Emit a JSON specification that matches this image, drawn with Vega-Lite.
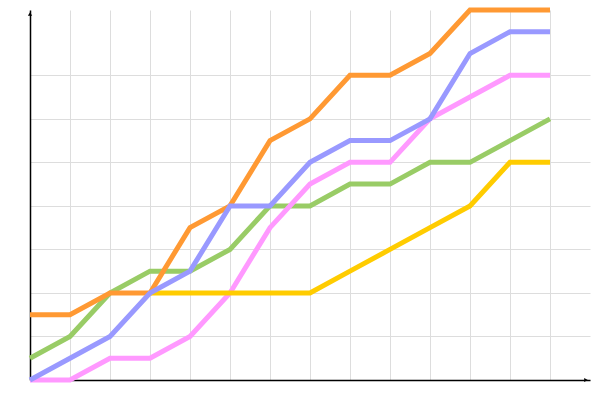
{
  "$schema": "https://vega.github.io/schema/vega-lite/v6.json",
  "width": 560,
  "height": 370,
  "autosize": {"type": "none"},
  "padding": {"left": 30, "top": 10, "right": 10, "bottom": 20},
  "background": "white",
  "config": {"view": {"stroke": null}},
  "datasets": {
    "series": [
      {"i": 0, "v": 0.5, "s": "green"}, {"i": 1, "v": 1, "s": "green"}, {"i": 2, "v": 2, "s": "green"}, {"i": 3, "v": 2.5, "s": "green"}, {"i": 4, "v": 2.5, "s": "green"}, {"i": 5, "v": 3, "s": "green"}, {"i": 6, "v": 4, "s": "green"}, {"i": 7, "v": 4, "s": "green"}, {"i": 8, "v": 4.5, "s": "green"}, {"i": 9, "v": 4.5, "s": "green"}, {"i": 10, "v": 5, "s": "green"}, {"i": 11, "v": 5, "s": "green"}, {"i": 12, "v": 5.5, "s": "green"}, {"i": 13, "v": 6, "s": "green"},
      {"i": 0, "v": 0, "s": "pink"}, {"i": 1, "v": 0, "s": "pink"}, {"i": 2, "v": 0.5, "s": "pink"}, {"i": 3, "v": 0.5, "s": "pink"}, {"i": 4, "v": 1, "s": "pink"}, {"i": 5, "v": 2, "s": "pink"}, {"i": 6, "v": 3.5, "s": "pink"}, {"i": 7, "v": 4.5, "s": "pink"}, {"i": 8, "v": 5, "s": "pink"}, {"i": 9, "v": 5, "s": "pink"}, {"i": 10, "v": 6, "s": "pink"}, {"i": 11, "v": 6.5, "s": "pink"}, {"i": 12, "v": 7, "s": "pink"}, {"i": 13, "v": 7, "s": "pink"},
      {"i": 3, "v": 2, "s": "yellow"}, {"i": 4, "v": 2, "s": "yellow"}, {"i": 5, "v": 2, "s": "yellow"}, {"i": 6, "v": 2, "s": "yellow"}, {"i": 7, "v": 2, "s": "yellow"}, {"i": 8, "v": 2.5, "s": "yellow"}, {"i": 9, "v": 3, "s": "yellow"}, {"i": 10, "v": 3.5, "s": "yellow"}, {"i": 11, "v": 4, "s": "yellow"}, {"i": 12, "v": 5, "s": "yellow"}, {"i": 13, "v": 5, "s": "yellow"},
      {"i": 0, "v": 1.5, "s": "orange"}, {"i": 1, "v": 1.5, "s": "orange"}, {"i": 2, "v": 2, "s": "orange"}, {"i": 3, "v": 2, "s": "orange"}, {"i": 4, "v": 3.5, "s": "orange"}, {"i": 5, "v": 4, "s": "orange"}, {"i": 6, "v": 5.5, "s": "orange"}, {"i": 7, "v": 6, "s": "orange"}, {"i": 8, "v": 7, "s": "orange"}, {"i": 9, "v": 7, "s": "orange"}, {"i": 10, "v": 7.5, "s": "orange"}, {"i": 11, "v": 8.5, "s": "orange"}, {"i": 12, "v": 8.5, "s": "orange"}, {"i": 13, "v": 8.5, "s": "orange"},
      {"i": 0, "v": 0, "s": "blue"}, {"i": 1, "v": 0.5, "s": "blue"}, {"i": 2, "v": 1, "s": "blue"}, {"i": 3, "v": 2, "s": "blue"}, {"i": 4, "v": 2.5, "s": "blue"}, {"i": 5, "v": 4, "s": "blue"}, {"i": 6, "v": 4, "s": "blue"}, {"i": 7, "v": 5, "s": "blue"}, {"i": 8, "v": 5.5, "s": "blue"}, {"i": 9, "v": 5.5, "s": "blue"}, {"i": 10, "v": 6, "s": "blue"}, {"i": 11, "v": 7.5, "s": "blue"}, {"i": 12, "v": 8, "s": "blue"}, {"i": 13, "v": 8, "s": "blue"}
    ],
    "arrows": [
      {"i": 14, "v": 0, "dir": "right"},
      {"i": 0, "v": 8.5, "dir": "up"}
    ]
  },
  "layer": [
    {
      "data": {"name": "series"},
      "mark": {"type": "line", "strokeWidth": 5, "strokeCap": "butt", "strokeJoin": "miter"},
      "encoding": {
        "x": {
          "field": "i", "type": "quantitative",
          "scale": {"domain": [0, 14], "nice": false, "zero": false},
          "axis": {"title": null, "labels": false, "ticks": false, "values": [0,1,2,3,4,5,6,7,8,9,10,11,12,13], "grid": true, "gridColor": "#dddddd", "gridWidth": 1, "domainColor": "#000000", "domainWidth": 1.5}
        },
        "y": {
          "field": "v", "type": "quantitative",
          "scale": {"domain": [0, 8.5], "nice": false},
          "axis": {"title": null, "labels": false, "ticks": false, "values": [0,1,2,3,4,5,6,7], "grid": true, "gridColor": "#dddddd", "gridWidth": 1, "domainColor": "#000000", "domainWidth": 1.5}
        },
        "color": {
          "field": "s", "type": "nominal",
          "scale": {"domain": ["green", "pink", "yellow", "orange", "blue"], "range": ["#99cc66", "#ff99ff", "#ffcc00", "#ff9933", "#9999ff"]},
          "legend": null
        },
        "order": {"field": "i", "type": "quantitative"}
      }
    },
    {
      "data": {"name": "arrows"},
      "transform": [{"filter": "datum.dir === 'right'"}],
      "mark": {"type": "point", "shape": "triangle-right", "filled": true, "color": "#000000", "size": 18, "opacity": 1, "xOffset": -4},
      "encoding": {
        "x": {"field": "i", "type": "quantitative"},
        "y": {"field": "v", "type": "quantitative"}
      }
    },
    {
      "data": {"name": "arrows"},
      "transform": [{"filter": "datum.dir === 'up'"}],
      "mark": {"type": "point", "shape": "triangle-up", "filled": true, "color": "#000000", "size": 18, "opacity": 1, "yOffset": 4},
      "encoding": {
        "x": {"field": "i", "type": "quantitative"},
        "y": {"field": "v", "type": "quantitative"}
      }
    }
  ]
}
